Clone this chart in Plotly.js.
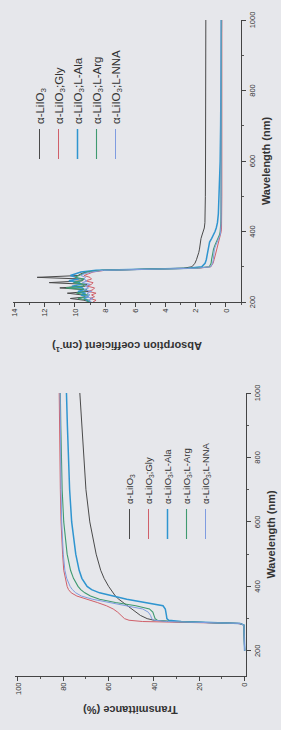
<!DOCTYPE html>
<html>
<head>
<meta charset="utf-8">
<script src="https://cdn.plot.ly/plotly-3.0.1.min.js"></script>
<style>
  html, body { margin: 0; padding: 0; width: 281px; height: 730px; overflow: hidden; background: #e6e7eb; }
  #wrap { position: absolute; left: 0; top: 0; width: 730px; height: 281px;
          transform-origin: 0 0; transform: translateY(730px) rotate(-90deg); }
  #chart { width: 730px; height: 281px; }
</style>
</head>
<body>
<div id="wrap"><div id="chart"></div></div>
<script>
// ---- data ----
const seriesNames = ["α-LiIO<sub>3</sub>", "α-LiIO<sub>3</sub>;Gly", "α-LiIO<sub>3</sub>;L-Ala", "α-LiIO<sub>3</sub>;L-Arg", "α-LiIO<sub>3</sub>;L-NNA"];
const seriesColors = ["#4a4a4a", "#d0606a", "#2f95d0", "#3f9a70", "#7f9ce0"];
const seriesWidths = [1, 1, 1.5, 1.1, 1];

// Transmittance (%)
const tWl = [200,250,280,285,288,291,295,300,310,320,330,340,350,360,370,380,390,400,425,450,500,550,600,700,800,900,1000];
const tPure = [0,0,0.3,2,15,33,40,43,46,48,50,52,54,55.5,57,58,59,60,62,63.5,65.5,67,68.3,70,71,72,72.7];
const tGly  = [0,0,0.3,3,25,45,51,53,54.5,56,58,61,65,70,74,76.5,77.7,78.3,79.2,79.8,80.3,80.7,81,81.3,81.5,81.7,81.8];
const tAla  = [0,0,0.3,2,12,28,33.5,34.3,34.5,34.7,35,36,44,52,58,64,67.5,69.5,71.8,73,74.5,75.5,76.3,77.2,77.8,78.2,78.6];
const tArg  = [0,0,0.3,2,14,32,38.5,39.5,40,40.5,42,48,57,64,68,70.5,72.3,73.5,75.5,76.8,78.3,79.2,79.8,80.5,80.9,81.1,81.3];
const tNna  = [0,0,0.3,2,15,34,40,41,41.5,42.5,45,52,60,67,72,74.5,76,77,78.5,79.3,80,80.4,80.7,81,81.2,81.3,81.4];

// Absorption coefficient (cm^-1)
const aWl = [200,205,210,215,220,225,230,235,240,245,250,255,260,265,270,275,280,285,
             290,293,296,300,310,320,330,340,350,360,370,380,390,400,410,425,450,500,600,700,800,900,1000];
const aPure = [9.0,9.4,10.3,9.2,9.5,10.5,9.1,9.4,11.0,9.3,9.2,11.7,9.5,9.4,12.5,9.8,9.6,9.3,
               8.2,5.0,2.8,2.25,2.05,1.95,1.85,1.8,1.75,1.72,1.7,1.65,1.58,1.5,1.43,1.39,1.37,1.36,1.35,1.34,1.34,1.33,1.33];
const aGly  = [8.8,8.6,9.0,8.7,8.9,8.6,9.1,8.8,8.7,9.2,8.9,8.8,9.3,8.9,9.0,9.4,9.1,8.8,
               8.0,4.5,1.8,1.0,0.85,0.78,0.72,0.68,0.64,0.58,0.5,0.42,0.35,0.31,0.29,0.28,0.28,0.27,0.27,0.27,0.27,0.27,0.27];
const aAla  = [9.0,9.2,9.4,9.1,9.6,9.3,9.8,9.4,9.5,10.2,9.6,9.7,10.4,9.8,9.9,10.3,10.0,9.6,
               8.6,5.5,2.5,1.6,1.38,1.3,1.26,1.23,1.2,1.15,1.08,0.95,0.82,0.72,0.64,0.56,0.5,0.45,0.38,0.35,0.33,0.31,0.3];
const aArg  = [9.2,9.0,9.8,9.3,9.1,9.9,9.4,9.2,10.6,9.5,9.3,10.1,9.6,9.4,10.0,9.7,9.5,9.2,
               8.2,5.0,2.0,1.1,0.98,0.95,0.92,0.88,0.82,0.74,0.64,0.52,0.43,0.38,0.35,0.34,0.33,0.32,0.31,0.3,0.3,0.3,0.3];
const aNna  = [8.9,9.1,8.8,9.3,9.0,9.2,8.9,9.4,9.1,9.3,9.0,9.5,9.2,9.4,9.3,9.6,9.4,8.9,
               8.1,4.8,1.9,1.0,0.88,0.84,0.82,0.8,0.76,0.68,0.58,0.46,0.38,0.35,0.33,0.32,0.32,0.32,0.32,0.32,0.32,0.32,0.32];

const xTicks = [200, 400, 600, 800, 1000];
const tYTicks = [0, 20, 40, 60, 80, 100];
const aYTicks = [0, 2, 4, 6, 8, 10, 12, 14];

// ---- build ----
const tSeries = [tPure, tGly, tAla, tArg, tNna];
const aSeries = [aPure, aGly, aAla, aArg, aNna];
const traces = [];
tSeries.forEach((ys, i) => traces.push({
  x: tWl, y: ys, type: "scatter", mode: "lines", name: seriesNames[i],
  line: { color: seriesColors[i], width: seriesWidths[i] },
  xaxis: "x", yaxis: "y", legend: "legend"
}));
aSeries.forEach((ys, i) => traces.push({
  x: aWl, y: ys, type: "scatter", mode: "lines", name: seriesNames[i],
  line: { color: seriesColors[i], width: seriesWidths[i] },
  xaxis: "x2", yaxis: "y2", legend: "legend2"
}));

const FONT = "Liberation Sans, Arial, sans-serif";
const axisCommon = {
  showline: true, linecolor: "#444", linewidth: 1, mirror: false,
  ticks: "outside", ticklen: 4, tickwidth: 1, tickcolor: "#444",
  showgrid: false, zeroline: false,
  tickfont: { family: FONT, size: 7.5, color: "#333" },
  minor: { ticks: "outside", ticklen: 2, tickwidth: 1, tickcolor: "#555" }
};
const titleFont = { family: FONT, size: 11, color: "#333", weight: "bold" };

const layout = {
  width: 730, height: 281,
  margin: { l: 0, r: 0, t: 0, b: 0 },
  paper_bgcolor: "#e6e7eb", plot_bgcolor: "#e6e7eb",
  showlegend: true,
  xaxis: Object.assign({}, axisCommon, {
    domain: [54/730, 337/730], range: [122, 1000], tickvals: xTicks,
    minor: Object.assign({}, axisCommon.minor, { dtick: 100, tick0: 0 }),
    title: { text: "<b>Wavelength (nm)</b>", font: titleFont, standoff: 6 },
    anchor: "y"
  }),
  yaxis: Object.assign({}, axisCommon, {
    domain: [35/281, 266/281], range: [-0.6, 101.3], tickvals: tYTicks,
    minor: Object.assign({}, axisCommon.minor, { dtick: 10, tick0: 0 }),
    title: { text: "<b>Transmittance (%)</b>", font: titleFont, standoff: 8 },
    anchor: "x"
  }),
  xaxis2: Object.assign({}, axisCommon, {
    domain: [428/730, 710/730], range: [200, 1000], tickvals: xTicks,
    minor: Object.assign({}, axisCommon.minor, { dtick: 100, tick0: 0 }),
    title: { text: "<b>Wavelength (nm)</b>", font: titleFont, standoff: 6 },
    anchor: "y2"
  }),
  yaxis2: Object.assign({}, axisCommon, {
    domain: [40/281, 268/281], range: [-1, 14.1], tickvals: aYTicks,
    minor: Object.assign({}, axisCommon.minor, { dtick: 1, tick0: 0 }),
    title: { text: "<b>Absorption coefficient (cm<sup>-1</sup>)</b>", font: titleFont, standoff: 22 },
    anchor: "x2"
  }),
  legend: {
    x: 186/730, xanchor: "left", y: 1 - 115/281, yanchor: "top",
    bgcolor: "rgba(0,0,0,0)", borderwidth: 0,
    font: { family: FONT, size: 9.5, color: "#333" },
    tracegroupgap: 0, itemwidth: 30
  },
  legend2: {
    x: 566/730, xanchor: "left", y: 1 - 25/281, yanchor: "top",
    bgcolor: "rgba(0,0,0,0)", borderwidth: 0,
    font: { family: FONT, size: 11.5, color: "#333" },
    tracegroupgap: 0, itemwidth: 30
  }
};

Plotly.newPlot("chart", traces, layout, { staticPlot: true, displayModeBar: false });
</script>
</body>
</html>
